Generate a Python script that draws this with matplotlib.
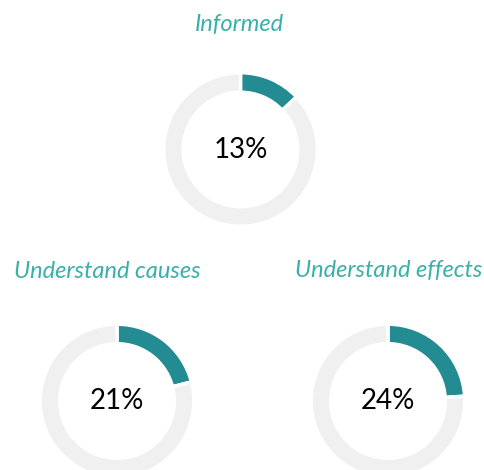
import matplotlib
matplotlib.use("Agg")
from matplotlib import pyplot as plt

titles = ["Informed", "Understand causes", "Understand effects"]
shares = [13, 21, 24]

# donut centres / radius in pixels (from top-left), title centres
centres = [(240.5, 149.5), (117, 401), (388, 401)]
title_pos = [(239, 25), (107, 271), (389, 271)]
radius = 75

W, H = 484, 470
teal = "#238C93"
title_teal = "#3AAFA9"
grey = "#F0F0F0"

fig = plt.figure(figsize=(W / 100, H / 100), dpi=100)
fig.patch.set_facecolor("white")

for title, share, (cx, cy), (tx, ty) in zip(titles, shares, centres, title_pos):
    ax = fig.add_axes([(cx - radius) / W, (H - cy - radius) / H,
                       2 * radius / W, 2 * radius / H])
    # white edge eats half its width on each side, so pad the radius a bit
    ax.pie([share, 100 - share], colors=[teal, grey], startangle=90,
           counterclock=False, radius=1.024,
           wedgeprops=dict(width=0.26, edgecolor="white", linewidth=2.5))
    ax.set_xlim(-1, 1)
    ax.set_ylim(-1, 1)
    ax.set_aspect("equal")
    ax.axis("off")
    ax.text(0, 0, f"{share}%", ha="center", va="center",
            fontsize=20, family="Lato", color="black")
    fig.text(tx / W, 1 - ty / H, title, ha="center", va="center",
             fontsize=17, family="Lato", style="italic", color=title_teal)

fig.savefig("out.png", dpi=100)
